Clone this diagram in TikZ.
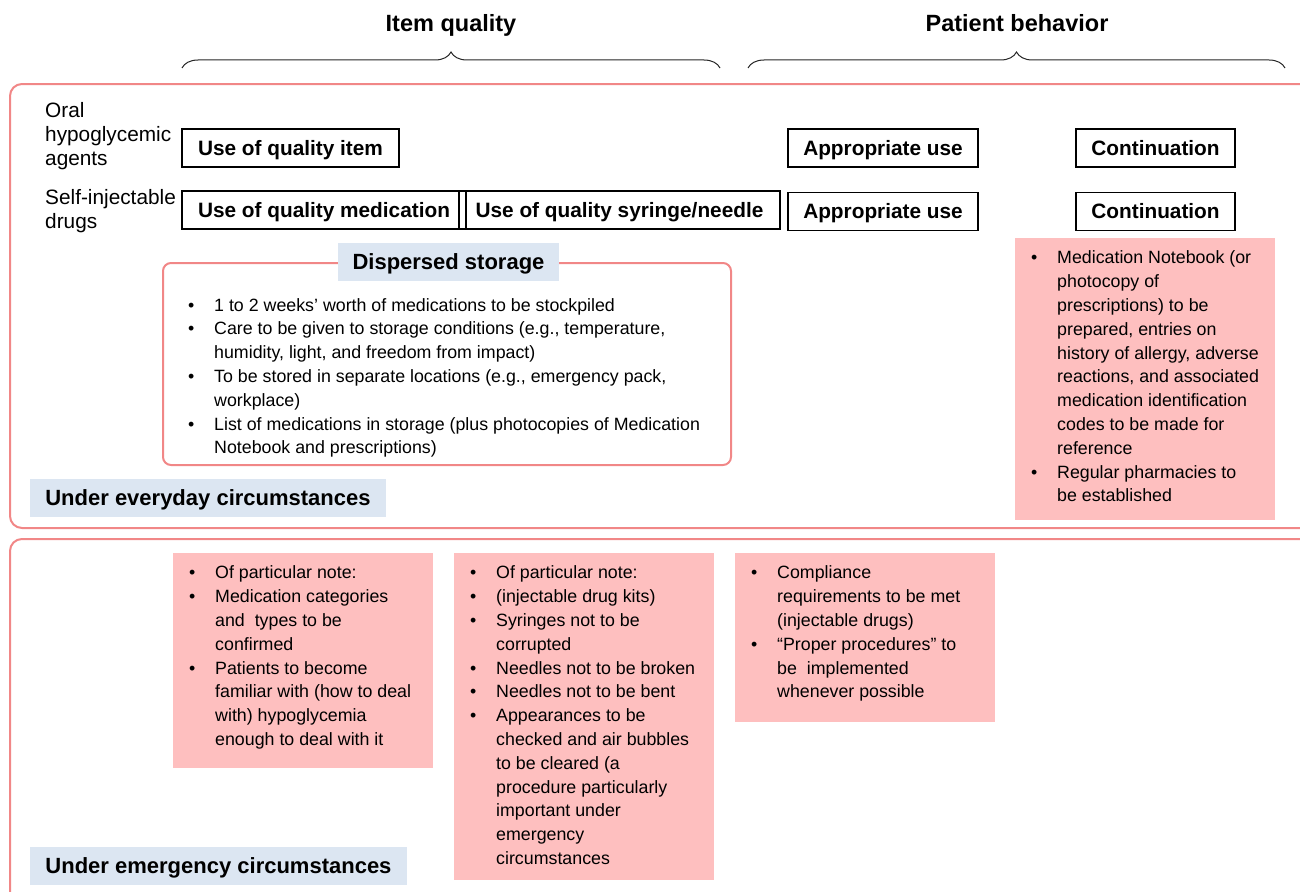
\documentclass[tikz,border=0pt]{standalone}
\usepackage{fontspec}
\setmainfont{Liberation Sans}
\usepackage{tikz}
\usetikzlibrary{positioning,decorations.pathreplacing}

\definecolor{framepink}{RGB}{241,135,135}
\definecolor{notepink}{RGB}{254,191,191}
\definecolor{tagblue}{RGB}{220,230,242}

\newcommand{\headfont}{\fontsize{23.5}{28}\selectfont\bfseries}
\newcommand{\boxfont}{\fontsize{20.8}{24}\selectfont\bfseries}
\newcommand{\tagfont}{\fontsize{22}{26}\selectfont\bfseries}
\newcommand{\sidefont}{\fontsize{20.8}{24}\selectfont}
\newcommand{\bodyfont}{\fontsize{17.8}{23.8}\selectfont}

% bullet item, later lines hang under the text
\newcommand{\bitem}[1]{\par\hangindent=26pt\hangafter=1\noindent\makebox[26pt][l]{\textbullet}\strut#1}
\newcommand{\bodytext}[1]{\begin{minipage}[t]{560pt}\bodyfont\rightskip=0pt plus 1fil#1\end{minipage}}
\newcommand{\sidetext}[1]{\begin{minipage}[t]{160pt}\sidefont\raggedright\strut#1\end{minipage}}

\begin{document}
\begin{tikzpicture}[x=1pt,y=-1pt,
    framebox/.style={draw=framepink, line width=2pt, rounded corners=12pt},
    labelbox/.style={draw, line width=1.3pt, font=\boxfont, minimum height=38pt,
      text height=15pt, text depth=0pt, inner sep=0pt},
    tagbox/.style={fill=tagblue, font=\tagfont, minimum height=38pt,
      text height=15.8pt, text depth=0pt, inner sep=0pt},
    notebox/.style={fill=notepink, anchor=north west, minimum width=260pt, inner sep=0pt},
    listtext/.style={inner sep=0pt},
    heading/.style={font=\headfont, anchor=base},
    bracket/.style={decorate, decoration={brace, amplitude=16pt}, line width=1pt, black!85}]

    \useasboundingbox (0,0) rectangle (1300,891);

    % the two circumstance frames run off the right edge
    \draw[framebox] (10,84) rectangle (1340,528);
    \draw[framebox] (10,539) rectangle (1340,930);

    % headings over braces
    \coordinate (qualL) at (182,68);
    \coordinate (qualR) at (720,68);
    \coordinate (behL) at (748,68);
    \coordinate (behR) at (1285,68);
    \draw[bracket] (qualL) -- (qualR);
    \draw[bracket] (behL) -- (behR);
    \node[heading] (quality) at (451,32) {Item quality};
    \node[heading] (behavior) at (1017,32) {Patient behavior};

    % row labels
    \node[listtext, anchor=base west] (oral) at (45,117.7) {\sidetext{Oral\\hypoglycemic\\agents}};
    \node[listtext, anchor=base west] (inject) at (45,204.7) {\sidetext{Self-injectable\\drugs}};

    % item quality
    \node[labelbox, minimum width=217pt] (qitem) at (290.5,148) {Use of quality item};
    \node[labelbox, minimum width=284pt] (qmed) at (324,210) {Use of quality medication};
    \node[labelbox, minimum width=321pt] (qsyr) at (619.5,210) {Use of quality syringe/needle};

    % patient behavior
    \node[labelbox, minimum width=190pt] (use1) at (883,148) {Appropriate use};
    \node[labelbox, minimum width=190pt, below=24pt of use1] (use2) {Appropriate use};
    \node[labelbox, minimum width=159pt] (cont1) at (1155.5,148) {Continuation};
    \node[labelbox, minimum width=159pt, below=24pt of cont1] (cont2) {Continuation};

    % storage box
    \node[draw=framepink, line width=2pt, rounded corners=8pt, minimum width=568pt,
      minimum height=202pt, anchor=north west, inner sep=0pt] (store) at (162,262) {};
    \node[tagbox, minimum width=221pt] (storetitle) at ([xshift=1.5pt]store.north) {Dispersed storage};
    \node[listtext, below right=32.3pt and 26pt of store.north west] (storelist) {\bodytext{%
      \bitem{1 to 2 weeks’ worth of medications to be stockpiled}
      \bitem{Care to be given to storage conditions (e.g., temperature,\\humidity, light, and freedom from impact)}
      \bitem{To be stored in separate locations (e.g., emergency pack,\\workplace)}
      \bitem{List of medications in storage (plus photocopies of Medication\\Notebook and prescriptions)}}};

    \node[notebox, minimum height=282pt] (keepnote) at (1015,238) {};
    \node[listtext, below right=9pt and 16pt of keepnote.north west] (keeplist) {\bodytext{%
      \bitem{Medication Notebook (or\\photocopy of\\prescriptions) to be\\prepared, entries on\\history of allergy, adverse\\reactions, and associated\\medication identification\\codes to be made for\\reference}
      \bitem{Regular pharmacies to\\be established}}};

    \node[tagbox, minimum width=356pt] (everyday) at (208,497.5) {Under everyday circumstances};

    % emergency notes
    \node[notebox, minimum height=215pt] (drugnote) at (173,553) {};
    \node[listtext, below right=9pt and 16pt of drugnote.north west] (druglist) {\bodytext{%
      \bitem{Of particular note:}
      \bitem{Medication categories\\and\ \ types to be\\confirmed}
      \bitem{Patients to become\\familiar with (how to deal\\with) hypoglycemia\\enough to deal with it}}};

    \node[notebox, minimum height=327pt] (kitnote) at (454,553) {};
    \node[listtext, below right=9pt and 16pt of kitnote.north west] (kitlist) {\bodytext{%
      \bitem{Of particular note:}
      \bitem{(injectable drug kits)}
      \bitem{Syringes not to be\\corrupted}
      \bitem{Needles not to be broken}
      \bitem{Needles not to be bent}
      \bitem{Appearances to be\\checked and air bubbles\\to be cleared (a\\procedure particularly\\important under\\emergency\\circumstances}}};

    \node[notebox, minimum height=169pt] (procnote) at (735,553) {};
    \node[listtext, below right=9pt and 16pt of procnote.north west] (proclist) {\bodytext{%
      \bitem{Compliance\\requirements to be met\\(injectable drugs)}
      \bitem{“Proper procedures” to\\be\ \ implemented\\whenever possible}}};

    \node[tagbox, minimum width=377pt] (emergency) at (218.5,866) {Under emergency circumstances};
\end{tikzpicture}
\end{document}
